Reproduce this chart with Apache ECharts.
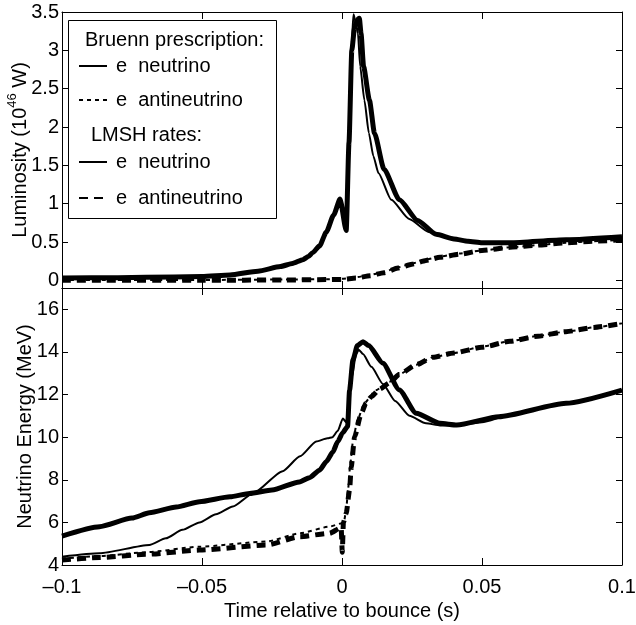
<!DOCTYPE html>
<html>
<head>
<meta charset="utf-8">
<script src="https://cdn.jsdelivr.net/npm/echarts@6/dist/echarts.min.js"></script>
<style>
html, body { margin: 0; background: #fff; }
#chart { width: 636px; height: 625px; }
</style>
</head>
<body>
<div id="chart"></div>
<script>
// tick values
const xTicks = [-0.1, -0.05, 0, 0.05, 0.1];
const lumTicks = [0, 0.5, 1, 1.5, 2, 2.5, 3, 3.5];
const energyTicks = [4, 6, 8, 10, 12, 14, 16];

// top panel: luminosity (10^46 W)
const lumBruennNuTime = [-0.1, -0.08, -0.06, -0.05, -0.04, -0.03, -0.022, -0.0177, -0.014, -0.012, -0.0105, -0.008, -0.0056, -0.003, -0.0007, 0.0015,
	0.0025, 0.0035, 0.0041, 0.005, 0.0057, 0.0065, 0.008, 0.0096, 0.0112, 0.013, 0.0176, 0.024, 0.031, 0.04, 0.05, 0.06, 0.08, 0.1];
const lumBruennNu = [0.03, 0.035, 0.045, 0.05, 0.07, 0.12, 0.18, 0.22, 0.27, 0.31, 0.36, 0.45, 0.63, 0.85, 1.06, 0.65,
	1.8, 3.1, 3.47, 3.35, 3.22, 2.79, 2.35, 1.92, 1.62, 1.4, 1.05, 0.8, 0.63, 0.54, 0.5, 0.49, 0.53, 0.56];
const lumLmshNuTime = [-0.1, -0.08, -0.06, -0.05, -0.04, -0.03, -0.022, -0.0177, -0.014, -0.012, -0.0105, -0.008, -0.0056, -0.003, -0.0007, 0.0015,
	0.0025, 0.0035, 0.0045, 0.0055, 0.0062, 0.0068, 0.0077, 0.0098, 0.0116, 0.015, 0.0205, 0.027, 0.0336, 0.04, 0.045, 0.05, 0.06, 0.08, 0.1];
const lumLmshNu = [0.03, 0.035, 0.045, 0.05, 0.07, 0.12, 0.18, 0.22, 0.27, 0.31, 0.36, 0.45, 0.63, 0.85, 1.06, 0.65,
	1.8, 3.0, 3.3, 3.4, 3.42, 3.22, 2.79, 2.35, 1.92, 1.45, 1.05, 0.78, 0.6, 0.54, 0.51, 0.49, 0.49, 0.53, 0.57];
const lumAntiTime = [-0.1, -0.05, -0.02, -0.005, 0, 0.005, 0.01, 0.015, 0.02, 0.025, 0.03, 0.035, 0.042, 0.05, 0.06, 0.07, 0.08, 0.09, 0.1];
const lumBruennAnti = [0.005, 0.005, 0.01, 0.015, 0.02, 0.04, 0.07, 0.11, 0.17, 0.22, 0.27, 0.31, 0.35, 0.39, 0.43, 0.46, 0.49, 0.51, 0.53];
const lumLmshAnti = [0, 0, 0.005, 0.01, 0.012, 0.03, 0.06, 0.1, 0.16, 0.21, 0.26, 0.3, 0.34, 0.39, 0.43, 0.46, 0.49, 0.51, 0.53];

// bottom panel: mean neutrino energy (MeV)
const enBruennNuTime = [-0.1, -0.0866, -0.0688, -0.0629, -0.057, -0.0509, -0.045, -0.039, -0.0318, -0.0212, -0.015, -0.0092, -0.0052, -0.0034, -0.0015, 0.0003, 0.0015,
	0.002, 0.0035, 0.005, 0.006, 0.0075, 0.0105, 0.0146, 0.019, 0.0241, 0.03, 0.035, 0.041, 0.05, 0.06, 0.08, 0.1];
const enBruennNu = [4.39, 4.55, 4.94, 5.25, 5.65, 6.0, 6.38, 6.75, 7.36, 8.4, 9.1, 9.8, 9.95, 10.0, 10.3, 10.88, 10.7,
	11.0, 12.8, 13.9, 14.1, 13.9, 13.3, 12.5, 11.7, 11.0, 10.65, 10.55, 10.55, 10.7, 11.05, 11.6, 12.2];
const enLmshNuTime = [-0.1, -0.0866, -0.075, -0.0688, -0.0592, -0.0509, -0.04, -0.033, -0.025, -0.0152, -0.0116, -0.008, -0.0056, -0.0033, -0.0015, 0.0002, 0.002,
	0.0027, 0.0039, 0.0055, 0.0075, 0.0095, 0.0146, 0.0205, 0.0265, 0.035, 0.041, 0.056, 0.08, 0.1];
const enLmshNu = [5.36, 5.8, 6.2, 6.45, 6.72, 6.97, 7.2, 7.36, 7.52, 7.9, 8.1, 8.45, 8.85, 9.3, 9.8, 10.2, 10.5,
	12.2, 13.62, 14.3, 14.48, 14.3, 13.47, 12.21, 11.12, 10.65, 10.57, 10.96, 11.59, 12.21];
const enBruennAntiTime = [-0.1, -0.0866, -0.07, -0.0509, -0.027, -0.015, -0.0045, 0, 0.0008, 0.0015, 0.0022, 0.003, 0.004, 0.0055, 0.008, 0.012,
	0.017, 0.0205, 0.0265, 0.0325, 0.04, 0.05, 0.06, 0.07, 0.08, 0.09, 0.1];
const enBruennAnti = [4.3, 4.42, 4.6, 4.86, 5.1, 5.49, 5.8, 5.96, 6.1, 6.6, 7.6, 8.8, 9.9, 10.8, 11.6, 12.2,
	12.6, 12.95, 13.4, 13.75, 13.95, 14.25, 14.5, 14.75, 14.95, 15.15, 15.34];
const enLmshAntiTime = [-0.1, -0.0866, -0.07, -0.0509, -0.027, -0.015, -0.0045, -0.0003, 0.0001, 0.0005, 0.0015, 0.0027, 0.0033, 0.0045, 0.0069, 0.0086, 0.0105, 0.0134,
	0.017, 0.0205, 0.0265, 0.0325, 0.04, 0.05, 0.06, 0.07, 0.08, 0.09, 0.1];
const enLmshAnti = [4.23, 4.35, 4.5, 4.7, 4.94, 5.33, 5.49, 5.75, 4.6, 6.0, 6.43, 7.52, 8.61, 10.02, 11.12, 11.6, 11.9, 12.25,
	12.55, 12.95, 13.4, 13.75, 13.95, 14.22, 14.5, 14.74, 14.95, 15.15, 15.34];

const FONT = "'Liberation Sans', Arial, Helvetica, sans-serif";
const FS = 20;
const BLACK = "#000";

const zip = (t, v) => t.map((x, i) => [x, v[i]]);
const fmtX = (v) => {
	const r = Math.round(v * 100) / 100;
	return r < 0 ? "\u2013" + String(-r) : String(r);
};

function xAxis(grid, position, showLabels) {
	return {
		type: "value", gridIndex: grid, position, min: -0.1, max: 0.1,
		axisLine: { show: true, onZero: false, lineStyle: { color: BLACK, width: 1 } },
		axisTick: { show: true, inside: true, length: 7, customValues: xTicks, lineStyle: { color: BLACK, width: 1 } },
		axisLabel: {
			show: showLabels, customValues: xTicks, interval: 0, margin: 12, hideOverlap: false,
			fontSize: FS, fontFamily: FONT, color: BLACK, formatter: fmtX,
		},
		splitLine: { show: false },
	};
}

function yAxis(grid, position, min, max, ticks, showLabels) {
	return {
		type: "value", gridIndex: grid, position, min, max,
		axisLine: { show: true, onZero: false, lineStyle: { color: BLACK, width: 1 } },
		axisTick: { show: true, inside: true, length: 6, customValues: ticks, lineStyle: { color: BLACK, width: 1 } },
		axisLabel: {
			show: showLabels, customValues: ticks, interval: 0, margin: 3, hideOverlap: false,
			fontSize: FS, fontFamily: FONT, color: BLACK,
		},
		splitLine: { show: false },
	};
}

function line(name, xi, yi, data, width, type) {
	return {
		type: "line", name, xAxisIndex: xi, yAxisIndex: yi, data,
		symbol: "none", showSymbol: false, smooth: 0.2, smoothMonotone: "x",
		lineStyle: { color: BLACK, width, type }, itemStyle: { color: BLACK },
		silent: true, animation: false,
	};
}

const xAxes = [xAxis(0, "bottom", false), xAxis(0, "top", false), xAxis(1, "bottom", true), xAxis(1, "top", false)];
Object.assign(xAxes[2], {
	name: "Time relative to bounce (s)", nameLocation: "middle", nameGap: 36, nameMoveOverlap: false,
	nameTextStyle: { fontSize: FS, fontFamily: FONT, color: BLACK },
});

const yAxes = [
	yAxis(0, "left", -0.1, 3.5, lumTicks, true), yAxis(0, "right", -0.1, 3.5, lumTicks, false),
	yAxis(1, "left", 4, 17, energyTicks, true), yAxis(1, "right", 4, 17, energyTicks, false),
];
Object.assign(yAxes[0], {
	name: "Luminosity (10{sup|46} W)", nameLocation: "middle", nameGap: 27, nameMoveOverlap: false,
	nameTextStyle: {
		fontSize: FS, fontFamily: FONT, color: BLACK,
		rich: { sup: { fontSize: 13, fontFamily: FONT, color: BLACK, padding: [0, 0, 16, 0] } },
	},
});
Object.assign(yAxes[2], {
	name: "Neutrino Energy (MeV)", nameLocation: "middle", nameGap: 27, nameMoveOverlap: false,
	nameTextStyle: { fontSize: FS, fontFamily: FONT, color: BLACK },
});

const BN = "Bruenn: e  neutrino", BA = "Bruenn: e  antineutrino";
const LN = "LMSH: e  neutrino", LA = "LMSH: e  antineutrino";
const DASH = [9, 6], DOT = [4, 4];

const legendBase = {
	orient: "vertical", left: 78, itemWidth: 28, itemHeight: 14, padding: 0,
	selectedMode: false, z: 6,
	itemStyle: { opacity: 0, borderWidth: 0 },
	formatter: (n) => n.replace(/^[A-Za-z]+: /, ""),
	textStyle: { fontSize: FS, fontFamily: FONT, color: BLACK, lineHeight: 22, padding: [0, 0, 0, 4] },
};

const chart = echarts.init(document.getElementById("chart"), null, { renderer: "canvas" });
chart.setOption({
	animation: false,
	backgroundColor: "#fff",
	textStyle: { fontFamily: FONT },
	grid: [
		{ left: 62, width: 560, top: 12, height: 276, containLabel: false, outerBoundsMode: "none" },
		{ left: 62, width: 560, top: 288, height: 277, containLabel: false, outerBoundsMode: "none" },
	],
	xAxis: xAxes,
	yAxis: yAxes,
	legend: [
		Object.assign({}, legendBase, { data: [BN, BA], top: 55, itemGap: 12 }),
		Object.assign({}, legendBase, { data: [LN, LA], top: 151, itemGap: 14 }),
	],
	graphic: [
		{ type: "rect", z: 5, shape: { x: 68.5, y: 20.5, width: 208, height: 198 }, style: { fill: "#fff", stroke: BLACK, lineWidth: 1 } },
		{ type: "text", z: 6, x: 85, y: 40, style: { text: "Bruenn prescription:", fontSize: FS, fontFamily: FONT, fill: BLACK, verticalAlign: "middle" } },
		{ type: "text", z: 6, x: 91, y: 135, style: { text: "LMSH rates:", fontSize: FS, fontFamily: FONT, fill: BLACK, verticalAlign: "middle" } },
	],
	series: [
		line(BN, 0, 0, zip(lumBruennNuTime, lumBruennNu), 2, "solid"),
		line(BA, 0, 0, zip(lumAntiTime, lumBruennAnti), 2, DOT),
		line(LN, 0, 0, zip(lumLmshNuTime, lumLmshNu), 5, "solid"),
		line(LA, 0, 0, zip(lumAntiTime, lumLmshAnti), 5, DASH),
		line(BN, 2, 2, zip(enBruennNuTime, enBruennNu), 2, "solid"),
		line(BA, 2, 2, zip(enBruennAntiTime, enBruennAnti), 2, DOT),
		line(LN, 2, 2, zip(enLmshNuTime, enLmshNu), 5, "solid"),
		line(LA, 2, 2, zip(enLmshAntiTime, enLmshAnti), 5, DASH),
	],
});
</script>
</body>
</html>
